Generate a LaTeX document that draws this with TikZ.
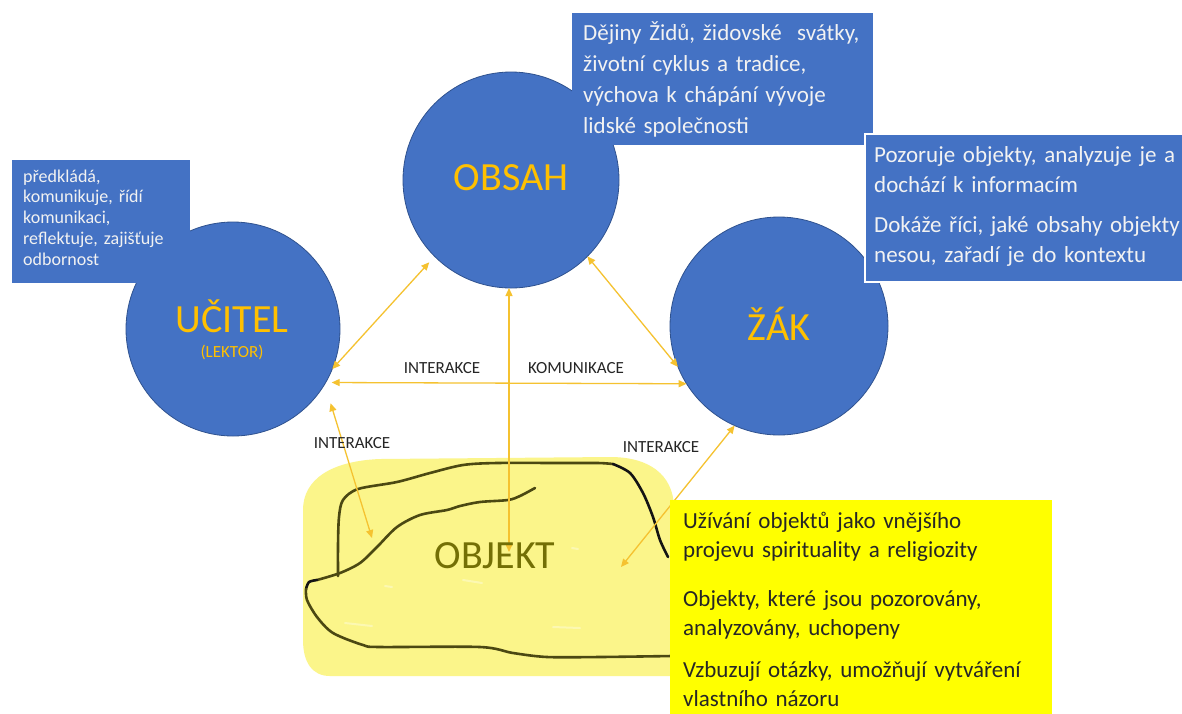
\documentclass[tikz,border=0pt]{standalone}
\usepackage{fontspec}
\setmainfont{Carlito}
\usetikzlibrary{arrows.meta}
\definecolor{officeblue}{HTML}{4472C4}
\definecolor{ringblue}{HTML}{2F528F}
\definecolor{gold}{HTML}{FFC000}
\definecolor{linkgold}{HTML}{F5C230}
\definecolor{boxtext}{HTML}{F2F2F2}
\definecolor{labelgray}{HTML}{262626}
\definecolor{marker}{HTML}{FBF58A}
\definecolor{pen}{HTML}{4B4812}
\definecolor{penblack}{HTML}{141414}
\definecolor{olivetext}{HTML}{736F05}
\definecolor{notefill}{HTML}{FFFF00}
\begin{document}
\begin{tikzpicture}[x=1pt,y=-1pt,
  party/.style={circle,fill=officeblue,draw=ringblue,line width=0.8pt,inner sep=0pt,outer sep=0pt},
  title/.style={anchor=base,text=gold,inner sep=0pt,font=\fontsize{40}{48}\selectfont},
  boxtxt/.style={anchor=base west,inner sep=0pt,align=left,text width=420pt},
  link/.style={draw=linkgold,line width=1.3pt,{Triangle[length=8pt,width=7pt]}-{Triangle[length=8pt,width=7pt]}},
  tag/.style={anchor=base,text=labelgray,inner sep=0pt,font=\fontsize{17}{20}\selectfont},
  pentrace/.style={line width=2.6pt,line cap=round,line join=round},
  gloss/.style={draw=white,opacity=0.35,line width=2pt,line cap=round}
]
\useasboundingbox[fill=white] (0,0) rectangle (1182,713);

% highlighted object area
\fill[marker] (303,640) -- (303,510) .. controls (303,480) and (330,461) .. (380,459)
  -- (610,457) .. controls (650,457) and (672,475) .. (674,505)
  -- (674,676) -- (330,676) .. controls (312,676) and (303,662) .. (303,640) -- cycle;
\draw[gloss] (345,623) -- (372,626);
\draw[gloss] (463,580) -- (482,583);
\draw[gloss] (385,586) -- (392,587);
\draw[gloss] (553,627) -- (580,628);
\draw[gloss] (572,548) -- (578,549);

% hand-drawn outline of the object
\draw[pentrace,draw=pen] plot[smooth] coordinates {(338,576) (338,545) (339,517) (343,500) (358,489) (397,482) (430,473) (463,465) (497,463) (560,463) (598,463) (613,464)};
\draw[pentrace,draw=penblack] plot[smooth] coordinates {(613,464) (630,473) (643,493) (653,517) (660,540) (668,557)};
\draw[pentrace,draw=pen] plot[smooth] coordinates {(535,488) (520,496) (508,500) (480,502) (460,506) (447,510) (420,515) (397,527) (377,547) (360,563) (340,573) (317,580)};
\draw[pentrace,draw=penblack] plot[smooth] coordinates {(317,580) (309,582) (306,589)};
\draw[pentrace,draw=pen] plot[smooth] coordinates {(306,589) (307,600) (317,617) (333,633) (363,645) (380,647) (480,647) (513,653) (547,657) (600,657) (672,656)};

% the three participants
\node[party,minimum size=216pt] (obsah) at (511,180) {};
\node[party,minimum size=214pt] (ucitel) at (233,329) {};
\node[party,minimum size=218pt] (zak) at (779,326) {};

\node[title] (obsahname) at (511,190) {OBSAH};
\node[title] (ucitelname) at (232,332) {UČITEL};
\node[anchor=base,text=gold,inner sep=0pt,font=\fontsize{17}{20}\selectfont] (lektor) at (232,357) {(LEKTOR)};
\node[title] (zakname) at (779,340) {ŽÁK};

% free ends of the links inside the object
\coordinate (o1) at (372,538);
\coordinate (o2) at (509,552);
\coordinate (o3) at (621,567);

% links
\draw[link,shorten >=8pt] (ucitel.-22) -- (obsah.-135);
\draw[link,shorten <=6pt] (ucitel.-30) -- (zak.-148.5);
\draw[link] (obsah.-45) -- (zak.-158);
\draw[link] (o2) -- (o2 |- obsah.south);
\draw[link,shorten <=20pt] (ucitel.-31) -- (o1);
\draw[link] (zak.-114) -- (o3);

\node[tag] (inter1) at (442,373) {INTERAKCE};
\node[tag] (komun) at (576,373) {KOMUNIKACE};
\node[tag] (inter2) at (352,448) {INTERAKCE};
\node[tag] (inter3) at (661,452) {INTERAKCE};

% object label
\node[anchor=base,text=olivetext,inner sep=0pt,font=\fontsize{40}{48}\selectfont] (objekt) at (495,568) {OBJEKT};

% description boxes
\fill[officeblue] (572,13) rectangle (873,145);
\node[boxtxt,text=boxtext,font=\fontsize{23}{31}\selectfont] (obsahnote) at (583,40)
  {Dějiny Židů, židovské\ \ svátky,\\ životní cyklus a tradice,\\ výchova k chápání vývoje\\ lidské společnosti};

\fill[officeblue] (12,160) rectangle (190,283);
\node[boxtxt,text=boxtext,font=\fontsize{18}{20.8}\selectfont] (ucitelnote) at (23,182)
  {předkládá,\\ komunikuje, řídí\\ komunikaci,\\ reflektuje, zajišťuje\\ odbornost};

\path[fill=officeblue,draw=white,line width=2pt] (865,134) rectangle (1195,282);
\node[boxtxt,text=boxtext,font=\fontsize{23}{30}\selectfont] (zaknote1) at (874,162)
  {Pozoruje objekty, analyzuje je a\\ dochází k informacím};
\node[boxtxt,text=boxtext,font=\fontsize{23}{30}\selectfont] (zaknote2) at (874,232)
  {Dokáže říci, jaké obsahy objekty\\ nesou, zařadí je do kontextu};

\fill[notefill] (670,500) rectangle (1052,720);
\node[boxtxt,text=labelgray,font=\fontsize{23}{29}\selectfont] (objnote1) at (683,528)
  {Užívání objektů jako vnějšího\\ projevu spirituality a religiozity};
\node[boxtxt,text=labelgray,font=\fontsize{23}{29}\selectfont] (objnote2) at (683,606)
  {Objekty, které jsou pozorovány,\\ analyzovány, uchopeny};
\node[boxtxt,text=labelgray,font=\fontsize{23}{29}\selectfont] (objnote3) at (683,677)
  {Vzbuzují otázky, umožňují vytváření\\ vlastního názoru};
\end{tikzpicture}
\end{document}
